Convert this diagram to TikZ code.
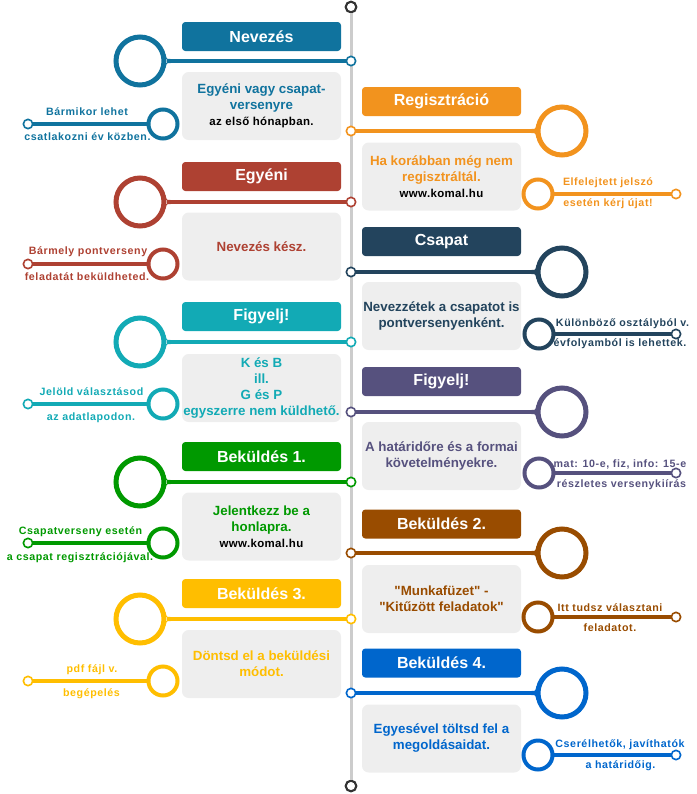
\documentclass[tikz,border=0pt]{standalone}
\usepackage{fontspec}
\setmainfont{Liberation Sans}
\usetikzlibrary{calc}
\definecolor{cA}{HTML}{10739E}
\definecolor{cB}{HTML}{F2931E}
\definecolor{cC}{HTML}{AE4132}
\definecolor{cD}{HTML}{23445D}
\definecolor{cE}{HTML}{12AAB5}
\definecolor{cF}{HTML}{56517E}
\definecolor{cG}{HTML}{009900}
\definecolor{cH}{HTML}{994C00}
\definecolor{cI}{HTML}{FFBE00}
\definecolor{cJ}{HTML}{0066CC}
\definecolor{boxgray}{HTML}{EEEEEE}
\definecolor{linegray}{HTML}{CCCCCC}
\definecolor{endgray}{HTML}{333333}
\newcommand\urlf{\color{black}\fontsize{8.6}{12}\selectfont\addfontfeature{LetterSpace=3}}
\newcommand\qq{{\addfontfeature{Ligatures=TeXOff}"}}
% small flare where a connector meets its big circle (#3 = 1: flare to the right, -1: to the left)
\newcommand\fillet[3]{%
  \fill[#2] ($(#1.center)+(#3*19.2pt,5.15pt)$) .. controls ($(#1.center)+(#3*19.8pt,1.5pt)$) .. ($(#1.center)+(#3*23pt,1.5pt)$) -- ($(#1.center)+(#3*17pt,1.5pt)$) -- cycle;
  \fill[#2] ($(#1.center)+(#3*19.2pt,-5.15pt)$) .. controls ($(#1.center)+(#3*19.8pt,-1.5pt)$) .. ($(#1.center)+(#3*23pt,-1.5pt)$) -- ($(#1.center)+(#3*17pt,-1.5pt)$) -- cycle;}
\tikzset{
  hdr/.style={rectangle, rounded corners=2.5pt, fill=#1, text=white, minimum width=119.25pt, minimum height=21.75pt, inner sep=0pt, font=\bfseries\fontsize{12}{14}\selectfont},
  content/.style={rectangle, rounded corners=5pt, fill=boxgray, text=#1, minimum width=119.25pt, minimum height=51pt, inner sep=0pt, align=center, font=\bfseries\fontsize{10}{12}\selectfont},
  bigc/.style={circle, draw=#1, line width=3.75pt, fill=white, minimum size=36pt, inner sep=0pt},
  smallc/.style={circle, draw=#1, line width=3pt, fill=white, minimum size=21.75pt, inner sep=0pt},
  dotc/.style={circle, draw=#1, line width=1.2pt, fill=white, minimum size=7pt, inner sep=0pt},
  endc/.style={circle, draw=endgray, line width=1.6pt, fill=white, minimum size=8pt, inner sep=0pt},
  conn/.style={draw=#1, line width=3pt},
  sideconn/.style={draw=#1, line width=3pt},
  side/.style={text=#1, inner sep=0pt, font=\bfseries\fontsize{8}{9}\selectfont\addfontfeature{LetterSpace=5.5}},
  timeline/.style={draw=linegray, line width=2.25pt}
}
\begin{document}
\begin{tikzpicture}[x=0.75pt,y=-0.75pt]
\useasboundingbox (0,0) rectangle (697,794);
% timeline
\node (tp) [endc] at (351,7) {};
\node (bt) [endc] at (351,786) {};
\draw[timeline] (tp) -- (bt);

% ===== Left 1: Nevezes
\node (h1) [hdr=cA] at (261.5,36.5) {Nevezés};
\node (c1) [content=cA] at (261.5,106) {Egyéni vagy csapat-\\versenyre\\{\urlf az első hónapban.}};
\node (b1) [bigc=cA] at (140,61) {};
\node (t1) [dotc=cA] at (351,61) {};
\draw[conn=cA] (b1) -- (t1);
\fillet{b1}{cA}{1}
\node (e1) [dotc=cA] at (28,124) {};
\draw[sideconn=cA] (e1) -- (163,124);
\node (s1) [smallc=cA] at (163,124) {};
\node (u1) [side=cA] at (87,112) {Bármikor lehet};
\node (l1) [side=cA] at (87.5,137) {csatlakozni év közben.};

% ===== Right 1: Regisztracio
\node (h2) [hdr=cB] at (441.5,101.5) {Regisztráció};
\node (c2) [content=cB] at (441.5,176.5) {Ha korábban még nem\\regisztráltál.\\{\urlf www.komal.hu}};
\node (b2) [bigc=cB] at (562,131) {};
\node (t2) [dotc=cB] at (351,131) {};
\draw[conn=cB] (b2) -- (t2);
\fillet{b2}{cB}{-1}
\node (e2) [dotc=cB] at (676,194) {};
\draw[sideconn=cB] (e2) -- (538,194);
\node (s2) [smallc=cB] at (538,194) {};
\node (u2) [side=cB] at (608,183) {Elfelejtett jelszó};
\node (l2) [side=cB] at (608,204) {esetén kérj újat!};

% ===== Left 2: Egyeni
\node (h3) [hdr=cC] at (261.5,176.5) {Egyéni};
\node (c3) [content=cC] at (261.5,246.5) {Nevezés kész.};
\node (b3) [bigc=cC] at (140,202) {};
\node (t3) [dotc=cC] at (351,202) {};
\draw[conn=cC] (b3) -- (t3);
\fillet{b3}{cC}{1}
\node (e3) [dotc=cC] at (28,264) {};
\draw[sideconn=cC] (e3) -- (163,264);
\node (s3) [smallc=cC] at (163,264) {};
\node (u3) [side=cC] at (88,252) {Bármely pontverseny};
\node (l3) [side=cC] at (87,277) {feladatát beküldheted.};

% ===== Right 2: Csapat
\node (h4) [hdr=cD] at (441.5,241.5) {Csapat};
\node (c4) [content=cD] at (441.5,316) {Nevezzétek a csapatot is\\pontversenyenként.};
\node (b4) [bigc=cD] at (562,272) {};
\node (t4) [dotc=cD] at (351,272) {};
\draw[conn=cD] (b4) -- (t4);
\fillet{b4}{cD}{-1}
\node (e4) [dotc=cD] at (676,334) {};
\draw[sideconn=cD] (e4) -- (539,334);
\node (s4) [smallc=cD] at (539,334) {};
\node (u4) [side=cD] at (622.5,324) {Különböző osztályból v.};
\node (l4) [side=cD] at (620,344) {évfolyamból is lehettek.};

% ===== Left 3: Figyelj
\node (h5) [hdr=cE] at (261.5,316.5) {Figyelj!};
\node (c5) [content=cE] at (261.5,388) {K és B\\ill.\\G és P\\egyszerre nem küldhető.};
\node (b5) [bigc=cE] at (140,342) {};
\node (t5) [dotc=cE] at (351,342) {};
\draw[conn=cE] (b5) -- (t5);
\fillet{b5}{cE}{1}
\node (e5) [dotc=cE] at (28,404) {};
\draw[sideconn=cE] (e5) -- (163,404);
\node (s5) [smallc=cE] at (163,404) {};
\node (u5) [side=cE] at (91.5,392) {Jelöld választásod};
\node (l5) [side=cE] at (91,418) {az adatlapodon.};

% ===== Right 3: Figyelj
\node (h6) [hdr=cF] at (441.5,381.5) {Figyelj!};
\node (c6) [content=cF] at (441.5,456) {A határidőre és a formai\\követelményekre.};
\node (b6) [bigc=cF] at (562,412) {};
\node (t6) [dotc=cF] at (351,412) {};
\draw[conn=cF] (b6) -- (t6);
\fillet{b6}{cF}{-1}
\node (e6) [dotc=cF] at (676,473) {};
\draw[sideconn=cF] (e6) -- (539,473);
\node (s6) [smallc=cF] at (539,473) {};
\node (u6) [side=cF] at (620,464) {mat: 10-e, fiz, info: 15-e};
\node (l6) [side=cF] at (621.5,485) {részletes versenykiírás};

% ===== Left 4: Bekuldes 1
\node (h7) [hdr=cG] at (261.5,456.5) {Beküldés 1.};
\node (c7) [content=cG] at (261.5,526.5) {Jelentkezz be a\\honlapra.\\{\urlf www.komal.hu}};
\node (b7) [bigc=cG] at (140,482) {};
\node (t7) [dotc=cG] at (351,482) {};
\draw[conn=cG] (b7) -- (t7);
\fillet{b7}{cG}{1}
\node (e7) [dotc=cG] at (28,543) {};
\draw[sideconn=cG] (e7) -- (163,543);
\node (s7) [smallc=cG] at (163,543) {};
\node (u7) [side=cG] at (80.5,532) {Csapatverseny esetén};
\node (l7) [side=cG] at (80,558) {a csapat regisztrációjával.};

% ===== Right 4: Bekuldes 2
\node (h8) [hdr=cH] at (441.5,524) {Beküldés 2.};
\node (c8) [content=cH] at (441.5,599) {\qq Munkafüzet\qq{} -\\\qq Kitűzött feladatok\qq};
\node (b8) [bigc=cH] at (562,553) {};
\node (t8) [dotc=cH] at (351,553) {};
\draw[conn=cH] (b8) -- (t8);
\fillet{b8}{cH}{-1}
\node (e8) [dotc=cH] at (676,617) {};
\draw[sideconn=cH] (e8) -- (538,617);
\node (s8) [smallc=cH] at (538,617) {};
\node (u8) [side=cH] at (610,608) {Itt tudsz választani};
\node (l8) [side=cH] at (610,628) {feladatot.};

% ===== Left 5: Bekuldes 3
\node (h9) [hdr=cI] at (261.5,593.5) {Beküldés 3.};
\node (c9) [content=cI] at (261.5,664) {Döntsd el a beküldési\\módot.};
\node (b9) [bigc=cI] at (140,619) {};
\node (t9) [dotc=cI] at (351,619) {};
\draw[conn=cI] (b9) -- (t9);
\fillet{b9}{cI}{1}
\node (e9) [dotc=cI] at (28,681) {};
\draw[sideconn=cI] (e9) -- (163,681);
\node (s9) [smallc=cI] at (163,681) {};
\node (u9) [side=cI] at (92,670) {pdf fájl v.};
\node (l9) [side=cI] at (91.5,694) {begépelés};

% ===== Right 5: Bekuldes 4
\node (h10) [hdr=cJ] at (441.5,663) {Beküldés 4.};
\node (c10) [content=cJ] at (441.5,738.5) {Egyesével töltsd fel a\\megoldásaidat.};
\node (b10) [bigc=cJ] at (562,693) {};
\node (t10) [dotc=cJ] at (351,693) {};
\draw[conn=cJ] (b10) -- (t10);
\fillet{b10}{cJ}{-1}
\node (e10) [dotc=cJ] at (676,755) {};
\draw[sideconn=cJ] (e10) -- (538,755);
\node (s10) [smallc=cJ] at (538,755) {};
\node (u10) [side=cJ] at (620,745) {Cserélhetők, javíthatók};
\node (l10) [side=cJ] at (620.5,766) {a határidőig.};
\end{tikzpicture}
\end{document}
